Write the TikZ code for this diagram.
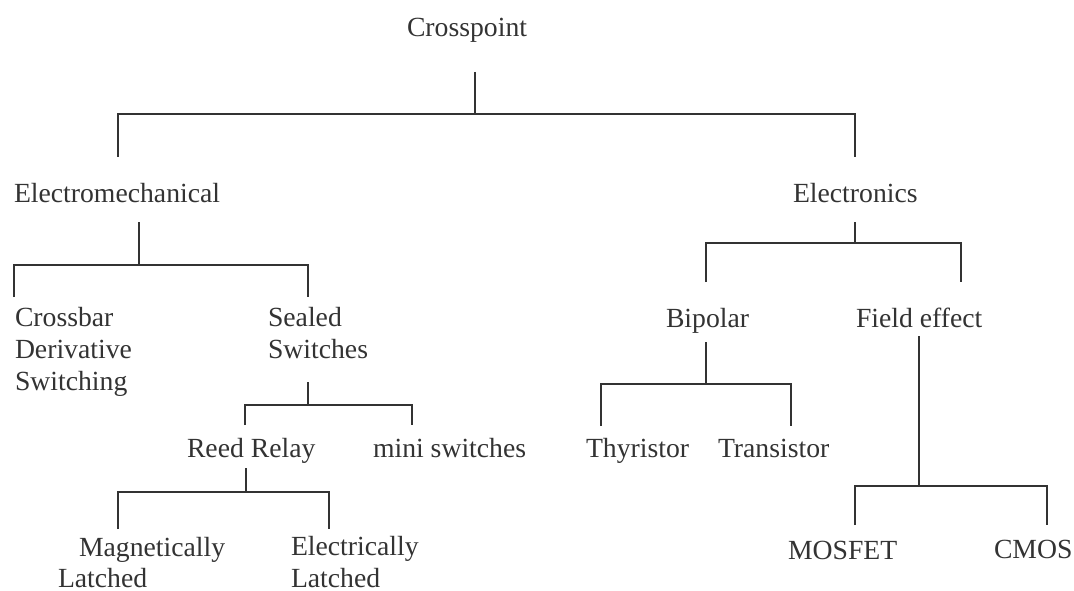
\documentclass[tikz,border=0pt]{standalone}
\usepackage{fontspec}
\setmainfont{Liberation Serif}
\definecolor{ink}{HTML}{333333}
\begin{document}
\begin{tikzpicture}[x=1pt,y=-1pt,
  lbl/.style={anchor=base west,inner sep=0pt,outer sep=0pt,text=ink,align=left,
    font=\fontsize{27.7}{32}\selectfont},
  conn/.style={draw=ink,line width=1.4pt,line cap=butt}]
\useasboundingbox (0,0) rectangle (1074,591);
% labels (multi-line nodes: base anchor = baseline of last line)
\node[lbl] (cp) at (407,37) {Crosspoint};
\node[lbl] (em) at (14,202) {Electromechanical};
\node[lbl] (et) at (793,202) {Electronics};
\node[lbl] (cb) at (15,390) {Crossbar\\Derivative\\Switching};
\node[lbl] (ss) at (268,358) {Sealed\\Switches};
\node[lbl] (rr) at (187,457) {Reed Relay};
\node[lbl] (ms) at (373,457) {mini switches};
\node[lbl] (ml) at (79,556) {Magnetically};
\node[lbl] (ml2) at (58,587) {Latched};
\node[lbl] (el) at (291,587) {Electrically\\Latched};
\node[lbl] (bp) at (666,327) {Bipolar};
\node[lbl] (fe) at (856,327) {Field effect};
\node[lbl] (th) at (586,457) {Thyristor};
\node[lbl] (tr) at (718,457) {Transistor};
\node[lbl] (mf) at (788,559) {MOSFET};
\node[lbl] (cm) at (994,558) {CMOS};
% junction coordinates
\coordinate (cpB) at (475,72);   \coordinate (cpJ) at (475,114);
\coordinate (emT) at (118,157);  \coordinate (etT) at (855,157);
\coordinate (emB) at (139,222);  \coordinate (emJ) at (139,265);
\coordinate (cbT) at (14,297);   \coordinate (ssT) at (308,297);
\coordinate (ssB) at (308,382);  \coordinate (ssJ) at (308,405);
\coordinate (rrT) at (245,425);  \coordinate (msT) at (412,425);
\coordinate (rrB) at (246,468);  \coordinate (rrJ) at (246,492);
\coordinate (mlT) at (118,529);  \coordinate (elT) at (329,529);
\coordinate (etB) at (855,222);  \coordinate (etJ) at (855,243);
\coordinate (bpT) at (706,282);  \coordinate (feT) at (961,282);
\coordinate (bpB) at (706,342);  \coordinate (bpJ) at (706,384);
\coordinate (thT) at (601,426);  \coordinate (trT) at (791,426);
\coordinate (feB) at (919,336);  \coordinate (feJ) at (919,486);
\coordinate (mfT) at (855,525);  \coordinate (cmT) at (1047,525);
% connectors
\draw[conn] (cpB) -- (cpJ);
\draw[conn] (emT) |- (cpJ) -| (etT);
\draw[conn] (emB) -- (emJ);
\draw[conn] (cbT) |- (emJ) -| (ssT);
\draw[conn] (ssB) -- (ssJ);
\draw[conn] (rrT) |- (ssJ) -| (msT);
\draw[conn] (rrB) -- (rrJ);
\draw[conn] (mlT) |- (rrJ) -| (elT);
\draw[conn] (etB) -- (etJ);
\draw[conn] (bpT) |- (etJ) -| (feT);
\draw[conn] (bpB) -- (bpJ);
\draw[conn] (thT) |- (bpJ) -| (trT);
\draw[conn] (feB) -- (feJ);
\draw[conn] (mfT) |- (feJ) -| (cmT);
\end{tikzpicture}
\end{document}
